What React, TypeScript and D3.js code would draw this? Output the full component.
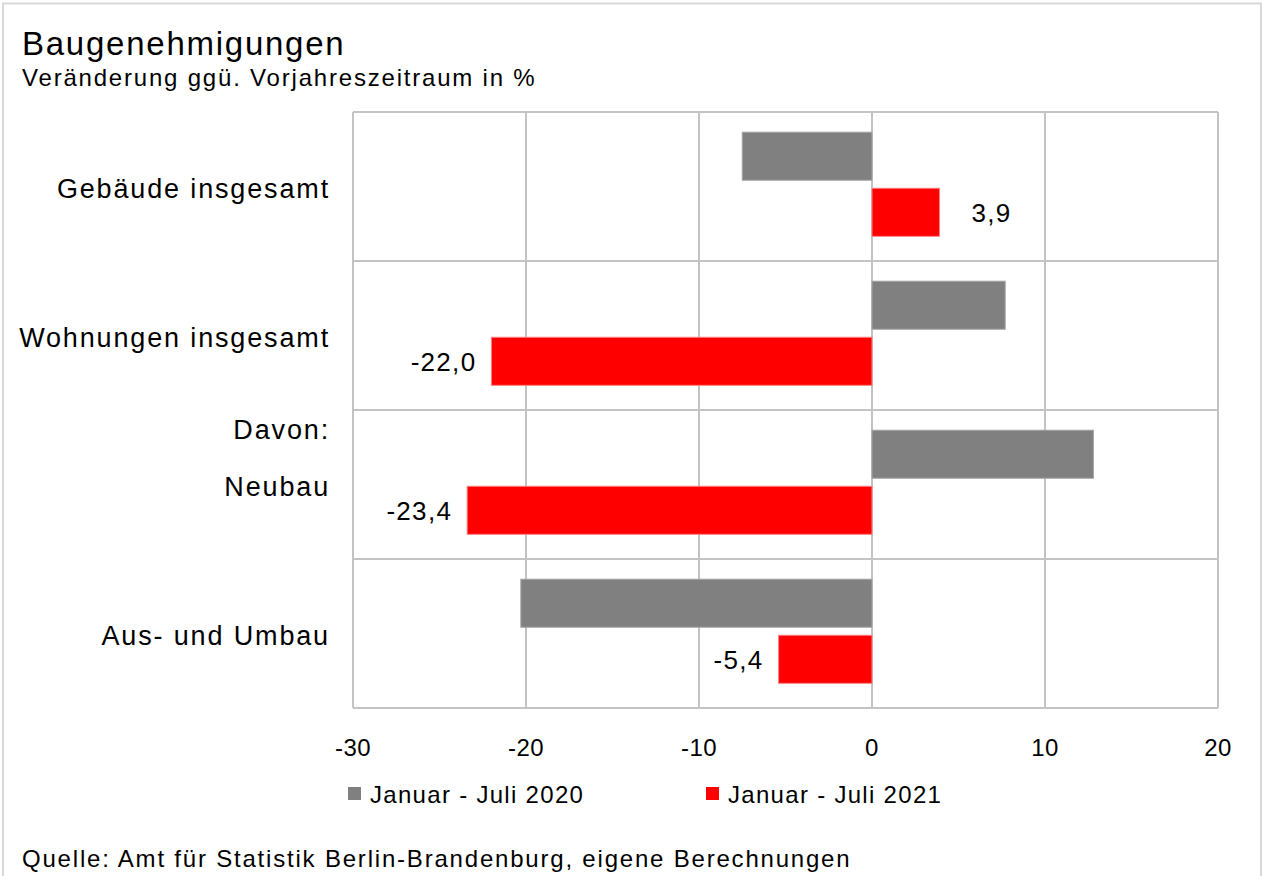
import React from "react";
import * as d3 from "d3";

const width = 1263;
const height = 876;
const margin = { top: 112, right: 45, bottom: 168, left: 353 };

const categories = ["Gebäude insgesamt", "Wohnungen insgesamt", "Neubau", "Aus- und Umbau"];
const series = ["Januar - Juli 2020", "Januar - Juli 2021"];
const values2020 = [-7.5, 7.7, 12.8, -20.3];
const values2021 = [3.9, -22.0, -23.4, -5.4];
const xTicks = [-30, -20, -10, 0, 10, 20];
const colors = ["#808080", "#ff0000"];
const strokes = ["#a6a6a6", "#ff8080"];

const font = "'Liberation Sans', Arial, sans-serif";
const gridColor = "#c3c3c3";

const App = () => {
  const innerWidth = width - margin.left - margin.right;
  const innerHeight = height - margin.top - margin.bottom;

  const x = d3.scaleLinear().domain([-30, 20]).range([0, innerWidth]);
  const y = d3.scaleBand().domain(categories).range([0, innerHeight]);
  const ySub = d3
    .scaleBand()
    .domain(series)
    .range([0, y.bandwidth()])
    .paddingInner(0.143)
    .paddingOuter(0.4)
    .align(0.45);

  const fmt = (v: number) => v.toFixed(1).replace(".", ",");
  const allValues = [values2020, values2021];

  return (
    <div>
      <style>{`body{margin:0}`}</style>
      <svg width={width} height={height} style={{ display: "block", fontFamily: font }}>
        <rect x={0} y={0} width={width} height={height} fill="white" />
        <rect x={3} y={3.5} width={1258} height={900} fill="none" stroke="#d9d9d9" strokeWidth={2} />

        <text x={22} y={55} fontSize={33} letterSpacing={1.75} fill="#000">Baugenehmigungen</text>
        <text x={22} y={86} fontSize={24} letterSpacing={1.8} fill="#000">
          Veränderung ggü. Vorjahreszeitraum in %
        </text>

        <g transform={`translate(${margin.left}, ${margin.top})`}>
          {/* category separators */}
          {categories.map((c) => (
            <line key={c} x1={0} x2={innerWidth} y1={y(c)!} y2={y(c)!} stroke={gridColor} strokeWidth={2} />
          ))}
          <line x1={0} x2={innerWidth} y1={innerHeight} y2={innerHeight} stroke={gridColor} strokeWidth={2} />
          {xTicks.map((t) => (
            <line key={t} x1={x(t)} x2={x(t)} y1={0} y2={innerHeight} stroke={gridColor} strokeWidth={2} />
          ))}

          {allValues.map((vals, si) =>
            vals.map((v, i) => {
              const c = categories[i];
              const yy = y(c)! + ySub(series[si])!;
              return (
                <rect
                  key={`${si}-${i}`}
                  x={x(Math.min(0, v))}
                  y={yy}
                  width={Math.abs(x(v) - x(0))}
                  height={ySub.bandwidth()}
                  fill={colors[si]}
                  stroke={strokes[si]}
                  strokeWidth={1}
                />
              );
            })
          )}

          {/* data labels, 2021 only */}
          {values2021.map((v, i) => {
            const yy = y(categories[i])! + ySub(series[1])! + ySub.bandwidth() / 2;
            return (
              <text
                key={i}
                x={v >= 0 ? x(v) + 32 : x(v) - 15}
                y={yy}
                dy="0.36em"
                fontSize={26}
                letterSpacing={1.3}
                textAnchor={v >= 0 ? "start" : "end"}
              >
                {fmt(v)}
              </text>
            );
          })}

          {/* x tick labels */}
          {xTicks.map((t) => (
            <text key={t} x={x(t)} y={innerHeight + 48} fontSize={24} textAnchor="middle" letterSpacing={0.5}>
              {t}
            </text>
          ))}

          {/* category labels */}
          {categories.map((c) => (
            <text
              key={c}
              x={-23}
              y={y(c)! + y.bandwidth() / 2 + 2}
              dy="0.36em"
              fontSize={27}
              letterSpacing={1.85}
              textAnchor="end"
            >
              {c}
            </text>
          ))}
          <text
            x={-23}
            y={y("Neubau")! + y.bandwidth() / 2 - 55}
            dy="0.36em"
            fontSize={27}
            letterSpacing={1.85}
            textAnchor="end"
          >
            Davon:
          </text>
        </g>

        {/* legend */}
        {series.map((s, i) => (
          <g key={s} transform={`translate(${[348, 706][i]}, 787)`}>
            <rect x={0} y={0} width={13} height={13} fill={colors[i]} />
            <text x={22} y={7} dy="0.36em" fontSize={24} letterSpacing={1.3}>
              {s}
            </text>
          </g>
        ))}

        <text x={22} y={867} fontSize={24} letterSpacing={1.8}>
          Quelle: Amt für Statistik Berlin-Brandenburg, eigene Berechnungen
        </text>
      </svg>
    </div>
  );
};

export default App;
